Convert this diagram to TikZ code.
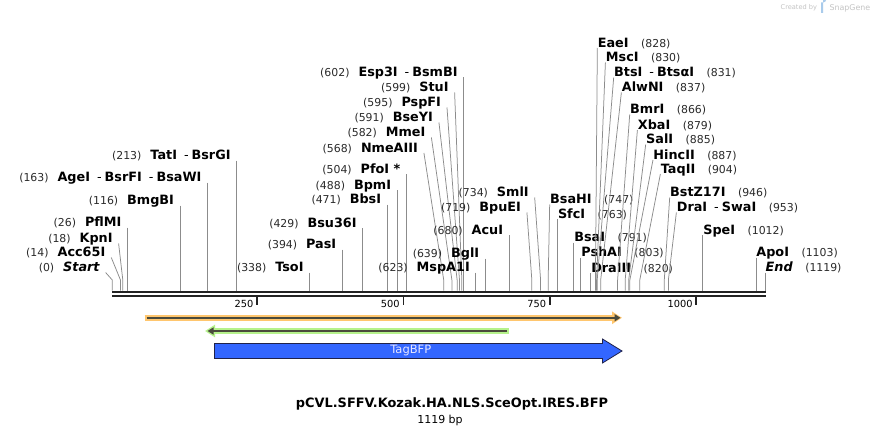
\documentclass[tikz,border=0pt]{standalone}
\usepackage{fontspec}
\setmainfont{DejaVu Sans}
\usetikzlibrary{arrows.meta}
\definecolor{sitegray}{HTML}{8C8C8C}
\definecolor{numgray}{HTML}{2A2A2A}
\definecolor{barcol}{HTML}{222222}
\definecolor{orangeband}{HTML}{FFC66E}
\definecolor{greenband}{HTML}{B6F28C}
\definecolor{featline}{HTML}{4A4A3C}
\definecolor{bfpblue}{HTML}{3366FF}
\definecolor{bfpedge}{HTML}{20224A}
\definecolor{wmgray}{HTML}{C4C4C4}
\definecolor{wmblue}{HTML}{A9CBEB}
\newcommand\SiteNum[1]{{\fontsize{10.9}{12}\selectfont\color{numgray}(#1)}}
\newcommand\SiteName[1]{{\fontsize{12.8}{14}\selectfont\bfseries #1}}
\newcommand\Sep{\hspace{7pt}{\mdseries -}\hspace{3pt}}
% left label: id, bp, dx, label y, name
\newcommand\Lsite[5]{%
  \coordinate (b#1) at ({112.3+0.5835*#2},290.5);
  \coordinate (k#1) at ({112.3+0.5835*#2},280);
  \coordinate (t#1) at ({112.3+0.5835*#2+(#3)},{#4+5.5});
  \node[lab,anchor=base east] (n#1) at ({112.3+0.5835*#2+(#3)-6},{#4+4.6}) {\SiteNum{#2}\hspace{9pt}\SiteName{#5}};
  \draw[siteline] (t#1) -- (k#1) -- (b#1);
}
% right label: id, bp, dx, label y, name
\newcommand\Rsite[5]{%
  \coordinate (b#1) at ({112.3+0.5835*#2},290.5);
  \coordinate (k#1) at ({112.3+0.5835*#2},280);
  \coordinate (t#1) at ({112.3+0.5835*#2+(#3)},{#4+5.5});
  \node[lab,anchor=base west] (n#1) at ({112.3+0.5835*#2+(#3)+0.5},{#4+4.6}) {\SiteName{#5}\hspace{12.5pt}\SiteNum{#2}};
  \draw[siteline] (t#1) -- (k#1) -- (b#1);
}
\begin{document}
\begin{tikzpicture}[x=1pt,y=-1pt,
  siteline/.style={draw=sitegray,line width=0.75pt},
  lab/.style={inner sep=0pt,outer sep=0pt,text=black},
  ticklab/.style={inner sep=0pt,font=\fontsize{9.8}{11}\selectfont,anchor=base east},
  tickmark/.style={draw=barcol,line width=1.6pt}]
\useasboundingbox (0,0) rectangle (878,436);
\fill[white] (0,0) rectangle (878,436);

% watermark
\node[inner sep=0pt,anchor=base west,text=wmgray,font=\fontsize{6.6}{8}\selectfont] (wm1) at (780.5,10) {Created by};
\fill[wmblue] (821,2.5) rectangle (823.2,13) (823.2,2.5) arc[start angle=90,end angle=-90,radius=3] -- cycle;
\node[inner sep=0pt,anchor=base west,text=wmgray,font=\fontsize{7.9}{9}\selectfont] (wm2) at (829.3,10.5) {SnapGene};

% sites, left side
\Lsite{start}{0}{-6.7}{267}{\itshape Start}
\Lsite{acc}{14}{-9.2}{252}{Acc65I}
\Lsite{kpn}{18}{-4.2}{238}{KpnI}
\Lsite{pfl}{26}{0}{222}{PflMI}
\Lsite{bmg}{116}{0}{200}{BmgBI}
\Lsite{age}{163}{0}{177}{AgeI\Sep BsrFI\Sep BsaWI}
\Lsite{tat}{213}{0}{155}{TatI\Sep BsrGI}
\Lsite{tso}{338}{0}{267}{TsoI}
\Lsite{pas}{394}{0}{244}{PasI}
\Lsite{bsu}{429}{0}{222.5}{Bsu36I}
\Lsite{bbs}{471}{0}{199}{BbsI}
\Lsite{bpm}{488}{0}{184.5}{BpmI}
\Lsite{pfo}{504}{0}{168.5}{PfoI *}
\Lsite{nme}{568}{-19.8}{147.5}{NmeAIII}
\Lsite{mme}{582}{-20.5}{132}{MmeI}
\Lsite{bse}{591}{-18.2}{117}{BseYI}
\Lsite{psp}{595}{-12.5}{102}{PspFI}
\Lsite{stu}{599}{-7.2}{87}{StuI}
\Lsite{esp}{602}{0}{72}{Esp3I\Sep BsmBI}
\Lsite{msp}{623}{0}{267}{MspA1I}
\Lsite{bgl}{639}{0}{253}{BglI}
\Lsite{acu}{680}{0}{229.5}{AcuI}
\Lsite{bpu}{719}{-4.9}{207}{BpuEI}
\Lsite{sml}{734}{-5.9}{192}{SmlI}

% sites, right side
\Rsite{bsah}{747}{1.5}{199}{BsaHI}
\Rsite{sfc}{763}{0}{213.5}{SfcI}
\Rsite{bsa}{791}{0}{237}{BsaI}
\Rsite{psh}{803}{0}{252}{PshAI}
\Rsite{draiii}{820}{0}{267.5}{DraIII}
\Rsite{eae}{828}{1.9}{42.5}{EaeI}
\Rsite{msc}{830}{8.8}{57}{MscI}
\Rsite{bts}{831}{16.5}{72}{BtsI\Sep BtsαI}
\Rsite{alw}{837}{20.7}{87}{AlwNI}
\Rsite{bmr}{866}{12.1}{109}{BmrI}
\Rsite{xba}{879}{12.2}{124.5}{XbaI}
\Rsite{sal}{885}{17}{139}{SalI}
\Rsite{hinc}{887}{23.1}{154.5}{HincII}
\Rsite{taq}{904}{20.6}{168.5}{TaqII}
\Rsite{bst}{946}{5.4}{192}{BstZ17I}
\Rsite{dra}{953}{8}{207}{DraI\Sep SwaI}
\Rsite{spe}{1012}{0}{229.5}{SpeI}
\Rsite{apo}{1103}{0}{252}{ApoI}
\Rsite{end}{1119}{0}{267}{\itshape End}

% sequence bar
\coordinate (barL) at (112.3,292);
\coordinate (barR) at (765.6,292);
\coordinate (barL2) at (112.3,295.9);
\coordinate (barR2) at (765.6,295.9);
\draw[barcol,line width=2.6pt] (barL) -- (barR);
\draw[barcol,line width=2.6pt] (barL2) -- (barR2);

% ticks
\foreach \lbl/\tx in {250/257,500/403.4,750/549.8,1000/696.2}{
  \coordinate (tk\lbl a) at (\tx,297);
  \coordinate (tk\lbl b) at (\tx,305);
  \draw[tickmark] (tk\lbl a) -- (tk\lbl b);
  \node[ticklab] (tl\lbl) at (\tx-3.5,307.5) {\lbl};
}

% orange feature
\coordinate (o1) at (144.5,317.8);
\coordinate (o2) at (622,317.8);
\coordinate (o1i) at (146.5,317.8);
\coordinate (o2i) at (620.5,317.8);
\draw[orangeband,line width=5.6pt,-{Triangle[length=10pt,width=12pt]}] (o1) -- (o2);
\draw[featline,line width=2.2pt,-{Triangle[length=6pt,width=7pt]}] (o1i) -- (o2i);

% green feature
\coordinate (g1) at (509,331);
\coordinate (g2) at (205,331);
\coordinate (g1i) at (507,331);
\coordinate (g2i) at (207.5,331);
\draw[greenband,line width=5.6pt,-{Triangle[length=10pt,width=12pt]}] (g1) -- (g2);
\draw[featline,line width=2.2pt,-{Triangle[length=6pt,width=7pt]}] (g1i) -- (g2i);

% TagBFP
\draw[fill=bfpblue,draw=bfpedge,line width=0.8pt]
  (214.5,343.5) -- (602.5,343.5) -- (602.5,339) -- (622,351) -- (602.5,363) -- (602.5,358.5) -- (214.5,358.5) -- cycle;
\node[inner sep=0pt,text=white!90!blue,font=\fontsize{11.5}{13}\selectfont] (bfp) at (410.8,351) {TagBFP};

% title
\node[inner sep=0pt,font=\fontsize{12.9}{15}\selectfont\bfseries] (title) at (452,404) {pCVL.SFFV.Kozak.HA.NLS.SceOpt.IRES.BFP};
\node[inner sep=0pt,anchor=base,font=\fontsize{11}{13}\selectfont] (size) at (440,423.5) {1119 bp};
\end{tikzpicture}
\end{document}
